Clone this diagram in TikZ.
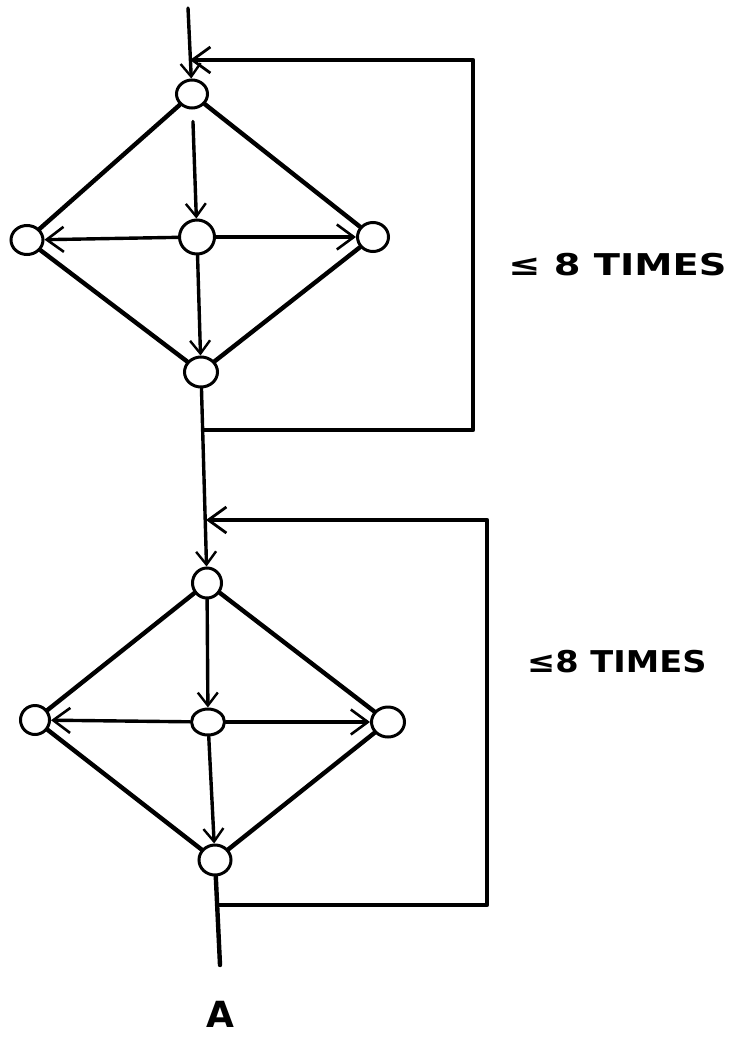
\documentclass[tikz,border=0pt]{standalone}
\usepackage{fontspec}
\setmainfont{DejaVu Sans}
\usetikzlibrary{arrows.meta,shapes.geometric}
\begin{document}
\begin{tikzpicture}[x=1pt,y=-1pt,
  vtx/.style={draw, ellipse, line width=3pt, inner sep=0pt, minimum width=31pt, minimum height=28pt},
  edge/.style={line width=4.4pt, line cap=round},
  flow/.style={line width=3.4pt, line cap=round, -{Straight Barb[length=13pt,width=20pt,line width=2.4pt]}},
  bigflow/.style={line width=3.4pt, line cap=round, -{Straight Barb[length=17pt,width=25pt,line width=2.6pt]}},
  loopline/.style={line width=4.4pt, line join=round},
  lbl/.style={font=\bfseries\fontsize{30}{34}\selectfont, transform shape, inner sep=0pt}]
\useasboundingbox (0,0) rectangle (740,1038);
% ---------- first diamond ----------
\node[vtx] (T1) at (192,94) {};
\node[vtx, minimum width=32pt, minimum height=29pt] (L1) at (27,240) {};
\node[vtx, minimum width=35pt, minimum height=34pt] (C1) at (197,237) {};
\node[vtx, minimum height=29pt] (R1) at (373,237) {};
\node[vtx, minimum width=33pt, minimum height=30pt] (B1) at (201,372) {};
\coordinate (in1) at (188,8);
\coordinate (j1t) at (190,60);
\coordinate (j1b) at (203,430);
\draw[flow] (in1) -- (T1);
\draw[edge] (T1) -- (L1);
\draw[edge] (T1) -- (R1);
\draw[edge] (L1) -- (B1);
\draw[edge] (R1) -- (B1);
\draw[flow, shorten <=12pt] (T1) -- (C1);
\draw[bigflow] (C1) -- (L1);
\draw[bigflow] (C1) -- (R1);
\draw[flow] (C1) -- (B1);
\draw[loopline, -{Straight Barb[length=18pt,width=26pt,line width=2.8pt]}] (j1b) -- (473,430) -- (473,60) -- (j1t);
\node[lbl, xscale=1.28, anchor=west] (n1) at (508,265) {≤ 8 TIMES};
% ---------- second diamond ----------
\node[vtx, minimum width=29pt, minimum height=30pt] (T2) at (207,583) {};
\node[vtx, minimum width=29pt, minimum height=29pt] (L2) at (35,720) {};
\node[vtx, minimum width=33pt, minimum height=26pt] (C2) at (208,722) {};
\node[vtx, minimum width=33pt, minimum height=30pt] (R2) at (388,722) {};
\node[vtx, minimum width=32pt, minimum height=30pt] (B2) at (215,860) {};
\coordinate (j2t) at (206,520);
\coordinate (j2b) at (219,905);
\coordinate (out) at (220,965);
\draw[flow] (B1) -- (T2);
\draw[edge] (T2) -- (L2);
\draw[edge] (T2) -- (R2);
\draw[edge] (L2) -- (B2);
\draw[edge] (R2) -- (B2);
\draw[flow] (T2) -- (C2);
\draw[bigflow] (C2) -- (L2);
\draw[bigflow] (C2) -- (R2);
\draw[flow] (C2) -- (B2);
\draw[loopline, -{Straight Barb[length=18pt,width=26pt,line width=2.8pt]}] (j2b) -- (487,905) -- (487,520) -- (j2t);
\draw[edge] (B2) -- (out);
\node[lbl, xscale=1.12, anchor=west] (n2) at (527,662) {≤8 TIMES};
\node[font=\bfseries\fontsize{36}{40}\selectfont, inner sep=0pt] (A) at (220,1014) {A};
\end{tikzpicture}
\end{document}
